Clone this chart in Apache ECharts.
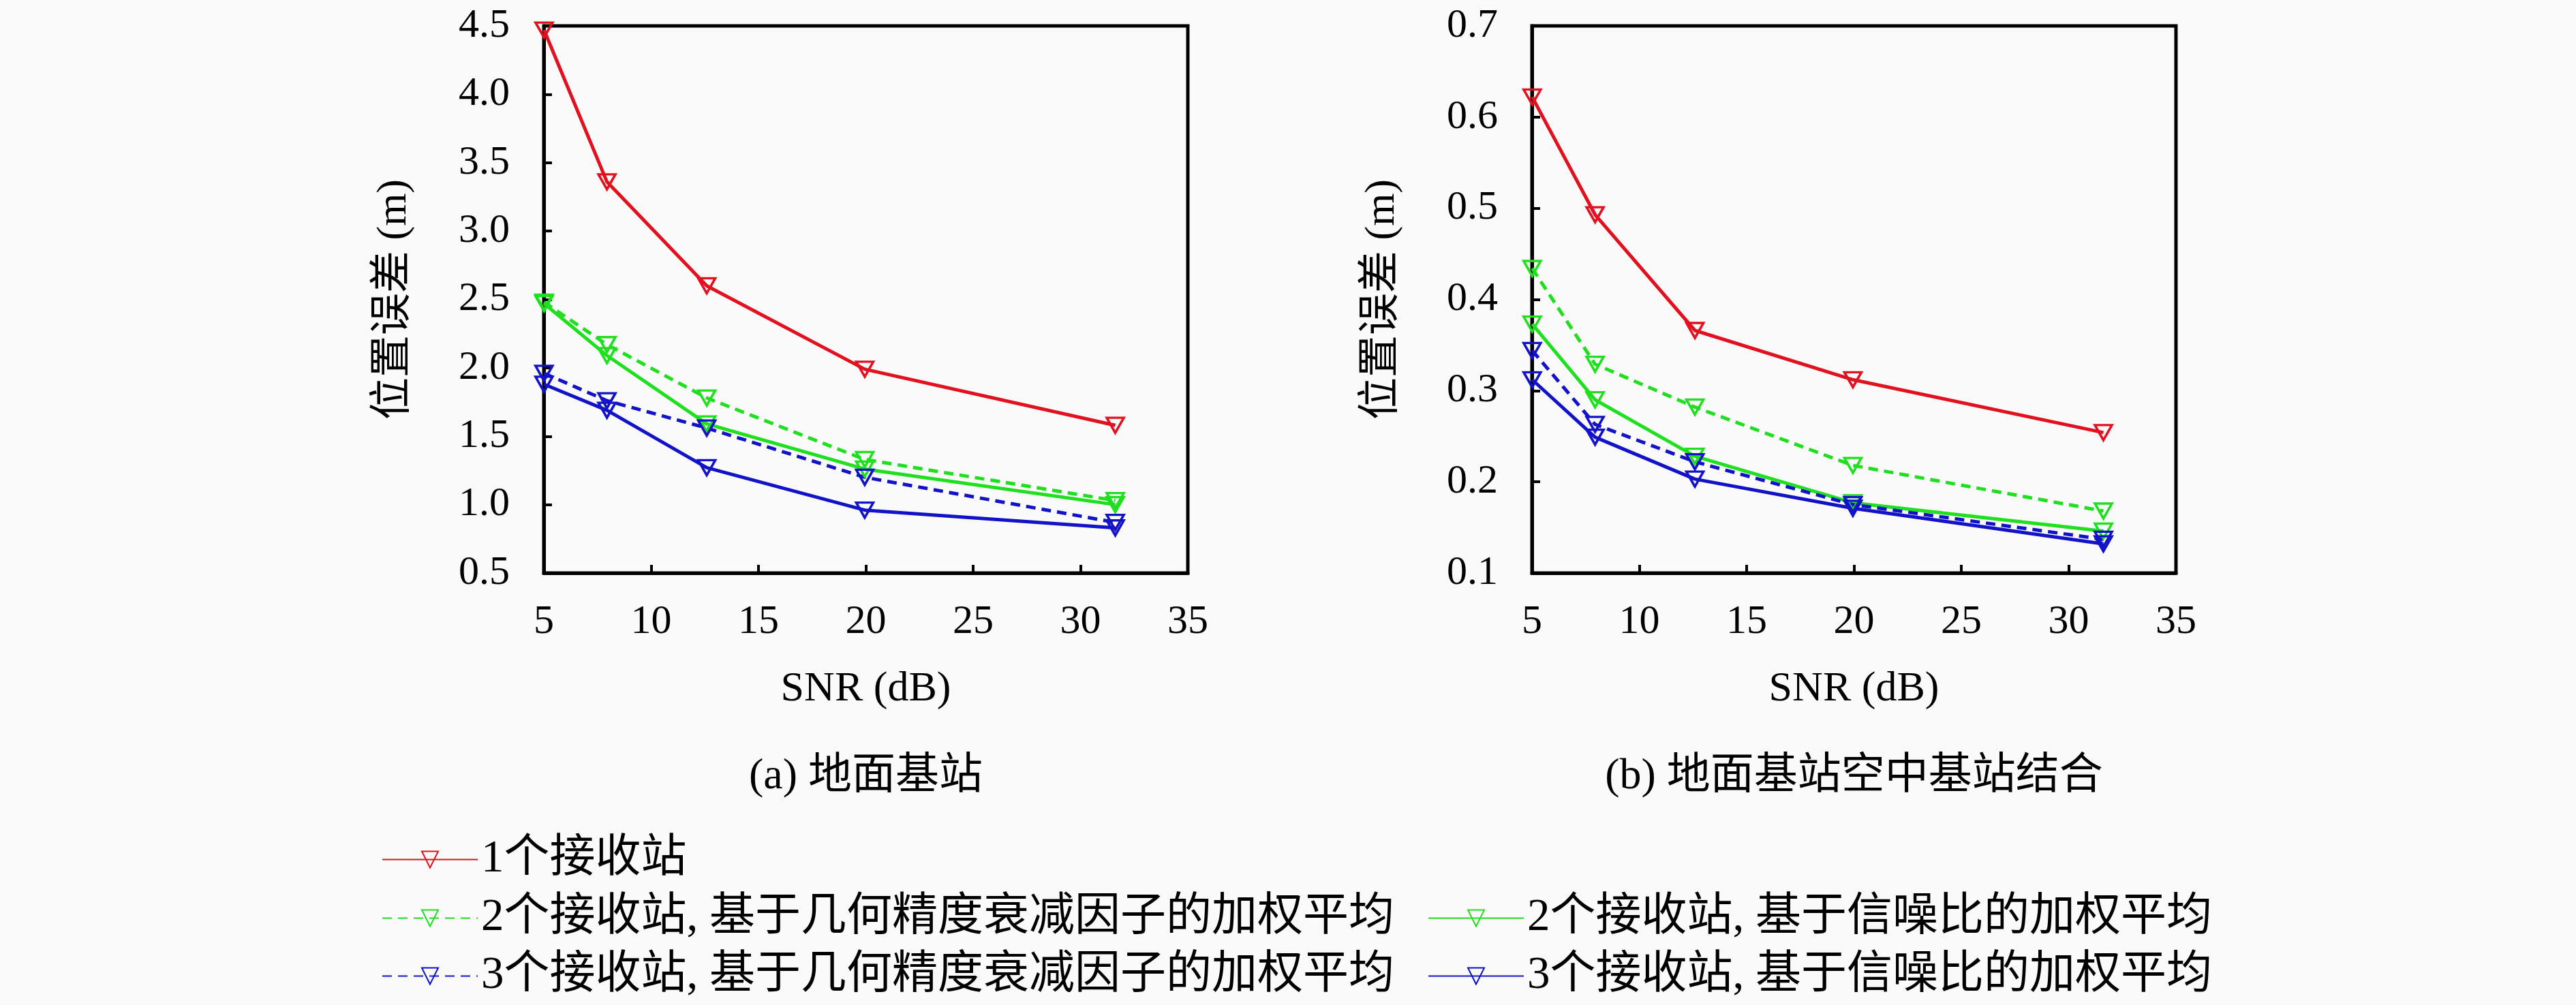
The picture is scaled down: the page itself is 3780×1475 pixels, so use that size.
<!DOCTYPE html>
<html>
<head>
<meta charset="utf-8">
<script src="https://cdn.jsdelivr.net/npm/echarts@6/dist/echarts.min.js"></script>
<style>
  html, body { margin: 0; padding: 0; background: #fafafa; }
  #main { width: 3780px; height: 1475px; }
</style>
</head>
<body>
<div id="main"></div>
<script>
// SNR points (dB axis)
var snr = [5.01, 7.94, 12.59, 19.95, 31.62];

var seriesNames = [
  '1个接收站',
  '2个接收站, 基于几何精度衰减因子的加权平均',
  '2个接收站, 基于信噪比的加权平均',
  '3个接收站, 基于几何精度衰减因子的加权平均',
  '3个接收站, 基于信噪比的加权平均'
];

// (a) ground stations
var groundOne = [4.47, 3.36, 2.60, 1.99, 1.58];
var groundTwoGdop = [2.48, 2.17, 1.78, 1.33, 1.03];
var groundTwoSnr = [2.47, 2.09, 1.59, 1.26, 1.00];
var groundThreeGdop = [1.96, 1.76, 1.56, 1.20, 0.87];
var groundThreeSnr = [1.88, 1.69, 1.27, 0.96, 0.83];

// (b) ground + aerial stations
var mixedOne = [0.622, 0.493, 0.366, 0.312, 0.254];
var mixedTwoGdop = [0.434, 0.329, 0.282, 0.218, 0.168];
var mixedTwoSnr = [0.373, 0.290, 0.228, 0.177, 0.146];
var mixedThreeGdop = [0.344, 0.263, 0.222, 0.175, 0.137];
var mixedThreeSnr = [0.312, 0.249, 0.203, 0.171, 0.132];

var captions = ['(a) 地面基站', '(b) 地面基站空中基站结合'];

var colors = ['#e2111f', '#1fdf1f', '#1fdf1f', '#1212c8', '#1212c8'];
var dashed = [false, true, false, true, false];

var serif = 'Liberation Serif, Noto Sans CJK SC';
var gridLefts = [798, 2248];
var gridW = 945, gridTop = 38, gridH = 803;

function pairs(ys) {
  return snr.map(function (x, i) { return [x, ys[i]]; });
}

function makeSeries(sets, idx) {
  return sets.map(function (ys, k) {
    return {
      name: seriesNames[k],
      type: 'line',
      xAxisIndex: idx,
      yAxisIndex: idx,
      data: pairs(ys),
      symbol: 'triangle',
      symbolRotate: 180,
      symbolSize: [25, 22],
      clip: false,
      lineStyle: { color: colors[k], width: 5, type: dashed[k] ? [14, 9] : 'solid' },
      itemStyle: { color: 'rgba(0,0,0,0)', borderColor: colors[k], borderWidth: 3.5 }
    };
  });
}

function xAxis(idx) {
  return {
    type: 'value', gridIndex: idx, min: 5, max: 35, interval: 5,
    name: 'SNR (dB)', nameLocation: 'middle', nameGap: 140,
    nameTextStyle: { fontFamily: serif, fontSize: 62, color: '#000' },
    axisLine: { lineStyle: { color: '#000', width: 5 } },
    axisTick: { inside: true, length: 12, lineStyle: { color: '#000', width: 4 } },
    axisLabel: { margin: 42, fontFamily: serif, fontSize: 60, color: '#000' },
    splitLine: { show: false }
  };
}

function yAxis(idx, min, max, step) {
  return {
    type: 'value', gridIndex: idx, min: min, max: max, interval: step,
    name: '位置误差 (m)', nameLocation: 'middle', nameGap: 188,
    nameTextStyle: { fontFamily: serif, fontSize: 62, color: '#000' },
    axisLine: { show: true, lineStyle: { color: '#000', width: 5 } },
    axisTick: { inside: true, length: 12, lineStyle: { color: '#000', width: 4 } },
    axisLabel: {
      margin: 50, fontFamily: serif, fontSize: 60, color: '#000',
      formatter: function (v) { return v.toFixed(1); }
    },
    splitLine: { show: false }
  };
}

function legendAt(name, left, top) {
  return {
    data: [name], left: left, top: top, padding: 0,
    itemWidth: 140, itemHeight: 30, selectedMode: false,
    textStyle: { fontFamily: serif, fontSize: 67, color: '#000' }
  };
}

var myChart = echarts.init(document.getElementById('main'));
myChart.setOption({
  animation: false,
  backgroundColor: '#fafafa',
  grid: gridLefts.map(function (l) {
    return { left: l, top: gridTop, width: gridW, height: gridH, show: true,
      borderColor: '#000', borderWidth: 5, backgroundColor: 'transparent' };
  }),
  xAxis: [xAxis(0), xAxis(1)],
  yAxis: [yAxis(0, 0.5, 4.5, 0.5), yAxis(1, 0.1, 0.7, 0.1)],
  legend: [
    legendAt(seriesNames[0], 560, 1228),
    legendAt(seriesNames[1], 560, 1314),
    legendAt(seriesNames[2], 2095, 1314),
    legendAt(seriesNames[3], 560, 1399),
    legendAt(seriesNames[4], 2095, 1399)
  ],
  graphic: captions.map(function (t, i) {
    return {
      type: 'text', x: gridLefts[i] + gridW / 2, y: 1140,
      style: { text: t, fontFamily: serif, fontSize: 64, fill: '#000',
        textAlign: 'center', textVerticalAlign: 'middle' }
    };
  }),
  series: makeSeries([groundOne, groundTwoGdop, groundTwoSnr, groundThreeGdop, groundThreeSnr], 0)
    .concat(makeSeries([mixedOne, mixedTwoGdop, mixedTwoSnr, mixedThreeGdop, mixedThreeSnr], 1))
});
</script>
</body>
</html>
